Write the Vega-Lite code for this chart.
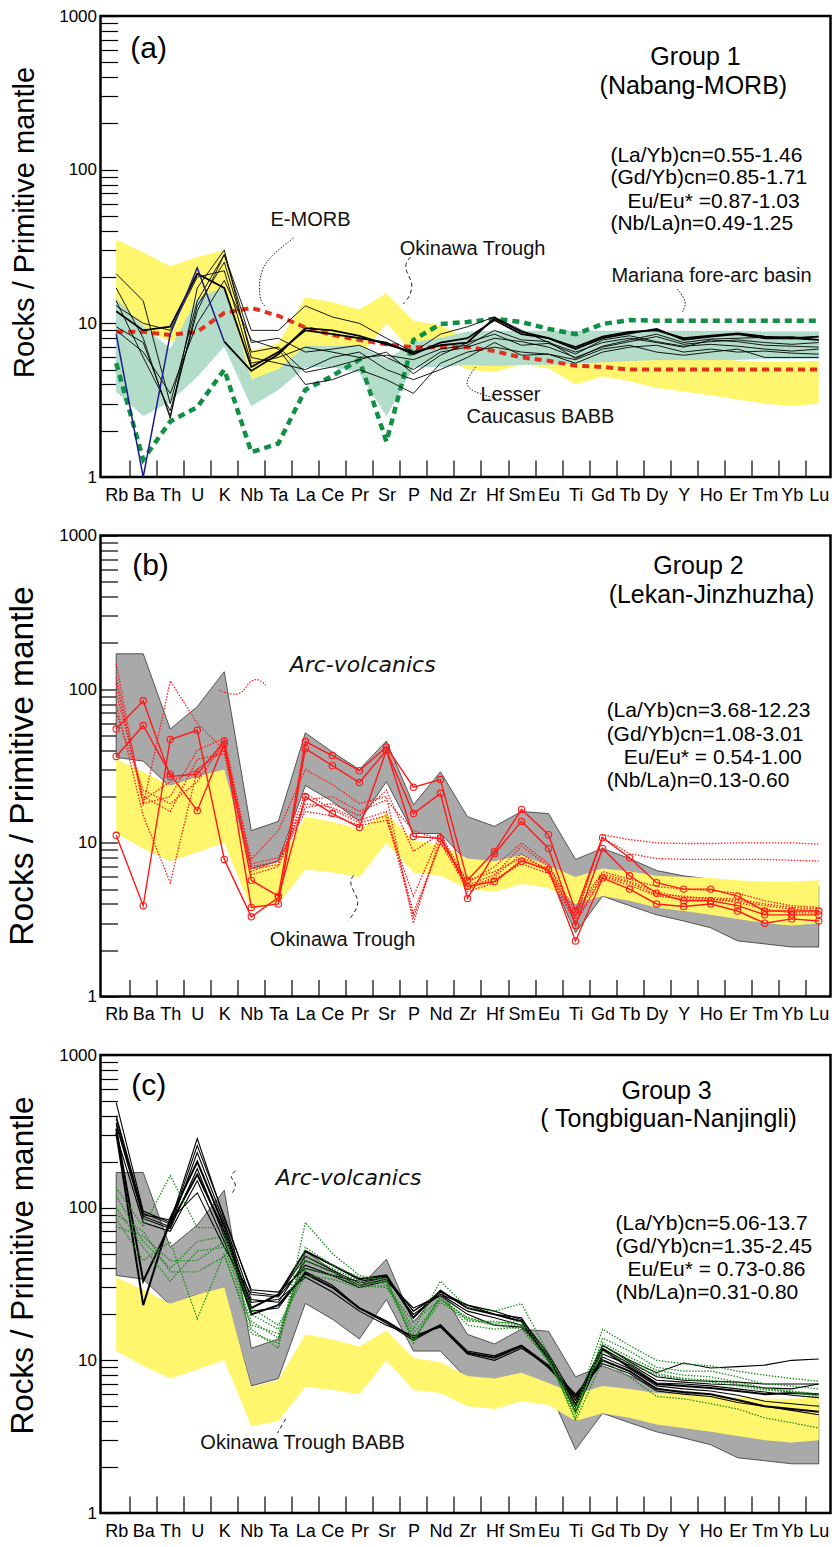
{
"$schema": "https://vega.github.io/schema/vega-lite/v6.json",
"background": "white",
"padding": {"left": 3.5, "top": 5, "right": 2, "bottom": 2},
"spacing": 18.5,
"config": {
  "font": "Liberation Sans",
  "view": {"stroke": "#000", "strokeWidth": 2.5},
  "axis": {"domain": false, "grid": false, "zindex": 1, "tickColor": "#000", "labelColor": "#000", "titleColor": "#000", "labelFont": "Liberation Sans", "titleFont": "Liberation Sans", "titleFontWeight": "normal"}
},
"datasets": {
  "els": [{"el":"Rb","i":0},{"el":"Ba","i":1},{"el":"Th","i":2},{"el":"U","i":3},{"el":"K","i":4},{"el":"Nb","i":5},{"el":"Ta","i":6},{"el":"La","i":7},{"el":"Ce","i":8},{"el":"Pr","i":9},{"el":"Sr","i":10},{"el":"P","i":11},{"el":"Nd","i":12},{"el":"Zr","i":13},{"el":"Hf","i":14},{"el":"Sm","i":15},{"el":"Eu","i":16},{"el":"Ti","i":17},{"el":"Gd","i":18},{"el":"Tb","i":19},{"el":"Dy","i":20},{"el":"Y","i":21},{"el":"Ho","i":22},{"el":"Er","i":23},{"el":"Tm","i":24},{"el":"Yb","i":25},{"el":"Lu","i":26}],
  "yel": [{"el":"Rb","v":35,"v2":11.5},{"el":"Ba","v":29,"v2":9.2},{"el":"Th","v":23.5,"v2":7.6},{"el":"U","v":27,"v2":8.7},{"el":"K","v":30,"v2":10},{"el":"Nb","v":6.7,"v2":3.7},{"el":"Ta","v":7.4,"v2":4.0},{"el":"La","v":14.8,"v2":6.7},{"el":"Ce","v":13.7,"v2":6.4},{"el":"Pr","v":12.3,"v2":6.0},{"el":"Sr","v":15.7,"v2":10},{"el":"P","v":10.4,"v2":6.4},{"el":"Nd","v":9.7,"v2":6.1},{"el":"Zr","v":7.9,"v2":5.0},{"el":"Hf","v":7.6,"v2":4.8},{"el":"Sm","v":8.3,"v2":5.4},{"el":"Eu","v":7.1,"v2":5.1},{"el":"Ti","v":6.0,"v2":4.0},{"el":"Gd","v":6.8,"v2":4.5},{"el":"Tb","v":6.5,"v2":4.2},{"el":"Dy","v":6.1,"v2":3.8},{"el":"Y","v":6.0,"v2":3.6},{"el":"Ho","v":5.9,"v2":3.4},{"el":"Er","v":5.7,"v2":3.2},{"el":"Tm","v":5.6,"v2":3.0},{"el":"Yb","v":5.6,"v2":2.9},{"el":"Lu","v":5.7,"v2":3.0}],
  "teal": [{"el":"Rb","v":14.4,"v2":3.6},{"el":"Ba","v":9.6,"v2":2.5},{"el":"Th","v":6.8,"v2":3.1},{"el":"U","v":14.4,"v2":4.5},{"el":"K","v":17.2,"v2":7.1},{"el":"Nb","v":4.3,"v2":2.9},{"el":"Ta","v":5.0,"v2":3.7},{"el":"La","v":7.1,"v2":5.2},{"el":"Ce","v":7.1,"v2":5.2},{"el":"Pr","v":7.1,"v2":4.8},{"el":"Sr","v":5.8,"v2":2.5},{"el":"P","v":7.5,"v2":5.2},{"el":"Nd","v":8.0,"v2":5.2},{"el":"Zr","v":8.8,"v2":5.4},{"el":"Hf","v":8.9,"v2":5.3},{"el":"Sm","v":8.9,"v2":5.4},{"el":"Eu","v":8.9,"v2":5.4},{"el":"Ti","v":8.9,"v2":5.5},{"el":"Gd","v":8.9,"v2":5.6},{"el":"Tb","v":8.9,"v2":5.7},{"el":"Dy","v":8.9,"v2":5.8},{"el":"Y","v":8.9,"v2":5.8},{"el":"Ho","v":8.9,"v2":5.8},{"el":"Er","v":8.9,"v2":5.8},{"el":"Tm","v":8.8,"v2":5.9},{"el":"Yb","v":8.8,"v2":5.9},{"el":"Lu","v":8.8,"v2":5.9}],
  "gray": [{"el":"Rb","v":170,"v2":36},{"el":"Ba","v":170,"v2":34},{"el":"Th","v":55,"v2":23},{"el":"U","v":77,"v2":27},{"el":"K","v":130,"v2":28},{"el":"Nb","v":12,"v2":6.8},{"el":"Ta","v":13.8,"v2":7.6},{"el":"La","v":52,"v2":23.6},{"el":"Ce","v":39,"v2":18.6},{"el":"Pr","v":30,"v2":13.8},{"el":"Sr","v":46,"v2":25},{"el":"P","v":17.7,"v2":11.5},{"el":"Nd","v":29,"v2":11.5},{"el":"Zr","v":14.8,"v2":7.5},{"el":"Hf","v":12.8,"v2":7},{"el":"Sm","v":16,"v2":7.5},{"el":"Eu","v":15.5,"v2":6.5},{"el":"Ti","v":7.8,"v2":2.6},{"el":"Gd","v":9.2,"v2":4.5},{"el":"Tb","v":7.9,"v2":3.9},{"el":"Dy","v":6.6,"v2":3.4},{"el":"Y","v":6.1,"v2":3.1},{"el":"Ho","v":5.8,"v2":2.8},{"el":"Er","v":5.5,"v2":2.3},{"el":"Tm","v":5.3,"v2":2.2},{"el":"Yb","v":5.2,"v2":2.1},{"el":"Lu","v":5.2,"v2":2.1}],
  "emorb": [{"s":"E-MORB","Rb":8.8,"Ba":8.8,"Th":8.4,"U":8.8,"K":11.7,"Nb":12.6,"Ta":11.2,"La":9.4,"Ce":8.4,"Pr":7.8,"Sr":7.3,"P":7.0,"Nd":7.0,"Zr":7.0,"Hf":6.6,"Sm":6.0,"Eu":5.7,"Ti":5.3,"Gd":5.2,"Tb":5.0,"Dy":5.0,"Y":5.0,"Ho":5.0,"Er":5.0,"Tm":5.0,"Yb":5.0,"Lu":5.0}],
  "mariana": [{"s":"Mariana","Rb":5.5,"Ba":1.3,"Th":2.3,"U":2.85,"K":5.0,"Nb":1.45,"Ta":1.65,"La":3.7,"Ce":4.55,"Pr":5.8,"Sr":1.7,"P":7.8,"Nd":9.9,"Zr":10.2,"Hf":10.7,"Sm":10.2,"Eu":9.2,"Ti":8.5,"Gd":9.9,"Tb":10.5,"Dy":10.4,"Y":10.4,"Ho":10.4,"Er":10.4,"Tm":10.4,"Yb":10.4,"Lu":10.4}],
  "thinA": [
    {"s":"a2","Rb":21,"Ba":14,"Th":3,"U":14,"K":28,"Nb":9,"Ta":9,"La":13,"Ce":11,"Pr":10,"Sr":8,"P":6.5,"Nd":8.5,"Zr":9.5,"Hf":11,"Sm":9,"Eu":7.5,"Ti":6.5,"Gd":7.5,"Tb":8,"Dy":7.5,"Y":7,"Ho":7.8,"Er":7.6,"Tm":7.2,"Yb":7.1,"Lu":7},
    {"s":"a3","Rb":17,"Ba":8,"Th":2.4,"U":17,"K":30,"Nb":6,"Ta":5.5,"La":5,"Ce":6,"Pr":6.5,"Sr":5,"P":4.3,"Nd":5,"Zr":6,"Hf":7.5,"Sm":6.2,"Eu":6.3,"Ti":5.5,"Gd":6.5,"Tb":7,"Dy":7.2,"Y":6.5,"Ho":6.8,"Er":6.5,"Tm":6.6,"Yb":6.4,"Lu":6.3},
    {"s":"a4","Rb":14,"Ba":6,"Th":2.7,"U":12,"K":28,"Nb":7.5,"Ta":8,"La":6.5,"Ce":6.8,"Pr":7.2,"Sr":6,"P":5,"Nd":6.5,"Zr":7,"Hf":8,"Sm":7.6,"Eu":7,"Ti":6,"Gd":7,"Tb":7.6,"Dy":8.2,"Y":7.3,"Ho":7.6,"Er":7.8,"Tm":7.5,"Yb":7.3,"Lu":7.5},
    {"s":"a5","Rb":9,"Ba":6.5,"Th":3.5,"U":10,"K":19,"Nb":7.8,"Ta":6.8,"La":4,"Ce":4.3,"Pr":5,"Sr":4.3,"P":3.5,"Nd":5.5,"Zr":6.5,"Hf":7,"Sm":6.5,"Eu":6.3,"Ti":5.8,"Gd":6.8,"Tb":7.2,"Dy":6.5,"Y":6.2,"Ho":6.5,"Er":6.8,"Tm":6,"Yb":6,"Lu":6},
    {"s":"a6","Rb":9.5,"Ba":7.5,"Th":2.5,"U":13,"K":25,"Nb":6.5,"Ta":7,"La":4.8,"Ce":5.2,"Pr":5.8,"Sr":6.5,"P":4.7,"Nd":6.2,"Zr":7.5,"Hf":8.5,"Sm":7.2,"Eu":7.4,"Ti":6.3,"Gd":7.8,"Tb":8.3,"Dy":7.6,"Y":7.1,"Ho":7.3,"Er":7.1,"Tm":6.8,"Yb":6.6,"Lu":6.8},
    {"s":"a7","Rb":13,"Ba":10,"Th":9,"U":20,"K":22,"Nb":5.5,"Ta":6,"La":7,"Ce":6.5,"Pr":6,"Sr":6.2,"P":5.8,"Nd":6.8,"Zr":7.2,"Hf":9,"Sm":7.8,"Eu":7.6,"Ti":5.9,"Gd":7.1,"Tb":7.8,"Dy":8.5,"Y":7.5,"Ho":7.9,"Er":8,"Tm":8.1,"Yb":8.2,"Lu":7.8}
  ],
  "thickA": [
    {"s":"a1","Rb":12,"Ba":9,"Th":9.5,"U":21,"K":17,"Nb":5.2,"Ta":6.5,"La":9,"Ce":8.5,"Pr":8,"Sr":7.5,"P":6.3,"Nd":7.5,"Zr":8,"Hf":10.5,"Sm":8.5,"Eu":8,"Ti":7,"Gd":8.2,"Tb":8.8,"Dy":9,"Y":8,"Ho":8.3,"Er":8.6,"Tm":8.2,"Yb":8,"Lu":8.2},
    {"s":"a8","K":7.6,"Nb":4.9,"Ta":6.3,"La":9.3,"Ce":9,"Pr":8.3,"Sr":7.3,"P":6.5,"Nd":7.2,"Zr":7.5,"Hf":10.8,"Sm":8.8,"Eu":8,"Ti":6.8,"Gd":8,"Tb":8.6,"Dy":9.2,"Y":7.8,"Ho":8.2,"Er":8.5,"Tm":8,"Yb":8,"Lu":7.8}
  ],
  "blueA": [{"s":"a8b","Rb":8.5,"Ba":1.0,"Th":8.5,"U":23,"K":7.6}],
  "solidB": [
    {"s":"r1","Rb":55,"Ba":84,"Th":27,"U":28,"K":46,"Nb":5.7,"Ta":4.5,"La":45.6,"Ce":37,"Pr":29.5,"Sr":42,"P":23,"Nd":25.8,"Zr":5.7,"Hf":8.8,"Sm":16.5,"Eu":11.3,"Ti":3.6,"Gd":10.8,"Tb":8.0,"Dy":5.5,"Y":5.0,"Ho":5.0,"Er":4.5,"Tm":3.6,"Yb":3.6,"Lu":3.6},
    {"s":"r2","Rb":36.5,"Ba":58,"Th":28,"U":16.2,"K":44,"Nb":3.8,"Ta":4.0,"La":41,"Ce":31.8,"Pr":24.7,"Sr":40,"P":15.5,"Nd":21,"Zr":4.35,"Hf":8.5,"Sm":13.8,"Eu":9.2,"Ti":2.9,"Gd":9.2,"Tb":6.1,"Dy":4.7,"Y":4.2,"Ho":4.2,"Er":3.9,"Tm":3.4,"Yb":3.4,"Lu":3.4},
    {"s":"r3","Rb":11.2,"Ba":3.9,"Th":47,"U":54,"K":7.8,"Nb":3.3,"Ta":4.4,"La":20,"Ce":15.5,"Pr":12.6,"Sr":40,"P":11,"Nd":10.7,"Zr":5.2,"Hf":5.6,"Sm":7.6,"Eu":6.7,"Ti":2.3,"Gd":5.9,"Tb":5.0,"Dy":4.0,"Y":3.85,"Ho":4.0,"Er":3.6,"Tm":3.0,"Yb":3.2,"Lu":3.1}
  ],
  "dotB": [
    {"s":"d1","Rb":147,"Ba":17.5,"Th":113,"U":60,"K":40,"Nb":7.8,"Ta":12,"La":30,"Ce":24,"Pr":18,"Sr":20,"P":3.0,"Nd":11,"Zr":5.2,"Hf":5.8,"Sm":7.3,"Eu":6.3,"Ti":3.0,"Gd":6,"Tb":5.3,"Dy":4.5,"Y":4.3,"Ho":4.3,"Er":4.1,"Tm":3.7,"Yb":3.5,"Lu":3.5},
    {"s":"d2","Rb":110,"Ba":18,"Th":20,"U":40,"K":48,"Nb":7.3,"Ta":8,"La":18,"Ce":17,"Pr":14,"Sr":16,"P":3.5,"Nd":10,"Zr":5.7,"Hf":6.5,"Sm":8,"Eu":6.8,"Ti":3.2,"Gd":11.3,"Tb":10.5,"Dy":10,"Y":9.9,"Ho":9.9,"Er":10,"Tm":10,"Yb":10,"Lu":9.8},
    {"s":"d3","Rb":80,"Ba":15,"Th":5.5,"U":30,"K":42,"Nb":6.5,"Ta":7.7,"La":17,"Ce":18,"Pr":15,"Sr":22,"P":8.8,"Nd":11.5,"Zr":5.5,"Hf":7,"Sm":10,"Eu":7.3,"Ti":3.3,"Gd":10.8,"Tb":8.5,"Dy":7.9,"Y":7.8,"Ho":7.8,"Er":7.8,"Tm":7.8,"Yb":7.7,"Lu":7.6},
    {"s":"d4","Rb":95,"Ba":20,"Th":16,"U":35,"K":38,"Nb":6.8,"Ta":7.2,"La":21,"Ce":16.5,"Pr":13.5,"Sr":15,"P":3.3,"Nd":10,"Zr":5,"Hf":6,"Sm":8.5,"Eu":6.5,"Ti":3.4,"Gd":6.3,"Tb":5.6,"Dy":4.8,"Y":4.4,"Ho":4.4,"Er":4.3,"Tm":4.0,"Yb":3.8,"Lu":3.7},
    {"s":"d5","Rb":70,"Ba":22,"Th":18,"U":25,"K":45,"Nb":7,"Ta":7.5,"La":16,"Ce":15,"Pr":13,"Sr":14,"P":4.5,"Nd":11.5,"Zr":4.8,"Hf":5.5,"Sm":7.8,"Eu":6.5,"Ti":3.1,"Gd":6.1,"Tb":5.5,"Dy":4.6,"Y":4.5,"Ho":4.3,"Er":4.2,"Tm":3.9,"Yb":3.7,"Lu":3.6},
    {"s":"d6","Rb":120,"Ba":19,"Th":25,"U":30,"K":40,"Nb":6.2,"Ta":7,"La":19,"Ce":20,"Pr":16,"Sr":19,"P":12,"Nd":10.5,"Zr":5.3,"Hf":6.2,"Sm":9.5,"Eu":7,"Ti":3.6,"Gd":6.5,"Tb":5.8,"Dy":5.2,"Y":5,"Ho":4.9,"Er":4.7,"Tm":4.2,"Yb":3.9,"Lu":3.8}
  ],
  "thinC": [
    {"s":"c1","Rb":487,"Ba":95,"Th":80,"U":284,"K":85,"Nb":29,"Ta":28,"La":40,"Ce":36,"Pr":33,"Sr":35,"P":21,"Nd":28,"Zr":23,"Hf":21,"Sm":18.5,"Eu":11,"Ti":5.5,"Gd":12.5,"Tb":10,"Dy":8.3,"Y":9.6,"Ho":8.9,"Er":9.1,"Tm":9.3,"Yb":10,"Lu":10.2},
    {"s":"c2","Rb":384,"Ba":88,"Th":75,"U":230,"K":80,"Nb":25,"Ta":24,"La":45,"Ce":38,"Pr":31,"Sr":34,"P":20,"Nd":27,"Zr":21,"Hf":19,"Sm":17,"Eu":10.5,"Ti":5.2,"Gd":12,"Tb":9.5,"Dy":7.4,"Y":7.2,"Ho":7.0,"Er":6.9,"Tm":6.6,"Yb":6.5,"Lu":7.0},
    {"s":"c5","Rb":350,"Ba":85,"Th":73,"U":180,"K":65,"Nb":24,"Ta":25,"La":35,"Ce":28,"Pr":21,"Sr":17,"P":14.5,"Nd":16.5,"Zr":11,"Hf":10,"Sm":12,"Eu":9.2,"Ti":6,"Gd":9.5,"Tb":8.2,"Dy":6.3,"Y":6.0,"Ho":5.8,"Er":5.3,"Tm":5.0,"Yb":4.7,"Lu":4.4},
    {"s":"c6","Rb":300,"Ba":80,"Th":70,"U":150,"K":60,"Nb":21,"Ta":22,"La":38,"Ce":31,"Pr":22,"Sr":17.5,"P":13.5,"Nd":17,"Zr":11.5,"Hf":10.7,"Sm":12.6,"Eu":9.3,"Ti":5.5,"Gd":10.5,"Tb":8.8,"Dy":6.8,"Y":6.5,"Ho":6.3,"Er":5.9,"Tm":5.4,"Yb":5.2,"Lu":5.0},
    {"s":"c7","Rb":360,"Ba":90,"Th":83,"U":125,"K":55,"Nb":27,"Ta":26,"La":42,"Ce":36,"Pr":30,"Sr":33,"P":22,"Nd":26.5,"Zr":20,"Hf":17,"Sm":16.5,"Eu":10.8,"Ti":4.6,"Gd":11,"Tb":9.3,"Dy":7.1,"Y":7.0,"Ho":6.8,"Er":6.5,"Tm":6.2,"Yb":5.9,"Lu":5.7},
    {"s":"c8","Rb":400,"Ba":92,"Th":78,"U":255,"K":88,"Nb":28,"Ta":26.5,"La":48,"Ce":39,"Pr":32,"Sr":35,"P":21,"Nd":27,"Zr":23,"Hf":20,"Sm":19,"Eu":10.2,"Ti":5.2,"Gd":12.6,"Tb":9.8,"Dy":7.8,"Y":7.4,"Ho":7.3,"Er":7.2,"Tm":7.0,"Yb":7.0,"Lu":7.0}
  ],
  "thickC": [
    {"s":"c3","Rb":310,"Ba":23,"Th":85,"U":200,"K":75,"Nb":22,"Ta":27,"La":52,"Ce":42,"Pr":34,"Sr":36,"P":19,"Nd":28.6,"Zr":22,"Hf":20,"Sm":18,"Eu":10,"Ti":5.0,"Gd":11.8,"Tb":9.0,"Dy":7.0,"Y":6.8,"Ho":6.6,"Er":6.3,"Tm":6.0,"Yb":6.1,"Lu":6.0},
    {"s":"c4","Rb":330,"Ba":33,"Th":78,"U":165,"K":70,"Nb":20,"Ta":23,"La":37,"Ce":30,"Pr":22,"Sr":18,"P":14,"Nd":17,"Zr":11.2,"Hf":10.4,"Sm":12.4,"Eu":9,"Ti":5.8,"Gd":10,"Tb":8.5,"Dy":6.5,"Y":6.2,"Ho":6.0,"Er":5.5,"Tm":5.0,"Yb":4.8,"Lu":4.6}
  ],
  "greenC": [
    {"s":"g1","Rb":135,"Ba":75,"Th":162,"U":74,"K":74,"Nb":16,"Ta":12,"La":80,"Ce":50,"Pr":36,"Sr":33,"P":16,"Nd":33,"Zr":22,"Hf":21,"Sm":23.5,"Eu":11,"Ti":4.8,"Gd":16,"Tb":12.5,"Dy":10,"Y":9.5,"Ho":9.2,"Er":8.5,"Tm":8.0,"Yb":7.6,"Lu":7.3},
    {"s":"g2","Rb":100,"Ba":55,"Th":33,"U":52,"K":55,"Nb":18,"Ta":14,"La":55,"Ce":42,"Pr":35,"Sr":34,"P":13,"Nd":27,"Zr":18,"Hf":18,"Sm":17,"Eu":10,"Ti":4.5,"Gd":13,"Tb":10.5,"Dy":8.6,"Y":8.0,"Ho":7.8,"Er":7.2,"Tm":6.6,"Yb":6.2,"Lu":5.8},
    {"s":"g3","Rb":85,"Ba":45,"Th":60,"U":18.7,"K":50,"Nb":15,"Ta":13,"La":48,"Ce":40,"Pr":33,"Sr":32,"P":15,"Nd":25,"Zr":19,"Hf":17.5,"Sm":18,"Eu":10.5,"Ti":4.0,"Gd":10,"Tb":7.8,"Dy":5.8,"Y":5.6,"Ho":5.2,"Er":4.8,"Tm":4.2,"Yb":3.9,"Lu":3.6},
    {"s":"g4","Rb":75,"Ba":65,"Th":45,"U":45,"K":60,"Nb":20,"Ta":16,"La":40,"Ce":36,"Pr":31,"Sr":30,"P":18,"Nd":25,"Zr":19,"Hf":17,"Sm":16,"Eu":10,"Ti":4.5,"Gd":12.5,"Tb":10,"Dy":8.2,"Y":7.6,"Ho":7.4,"Er":7.0,"Tm":6.5,"Yb":6.3,"Lu":6.0},
    {"s":"g5","Rb":120,"Ba":60,"Th":40,"U":60,"K":65,"Nb":22,"Ta":17,"La":36,"Ce":34,"Pr":30,"Sr":31,"P":14,"Nd":24,"Zr":18.5,"Hf":17,"Sm":17,"Eu":9.8,"Ti":5.0,"Gd":11.5,"Tb":9.5,"Dy":8.0,"Y":7.5,"Ho":7.2,"Er":6.8,"Tm":6.4,"Yb":6.2,"Lu":5.9},
    {"s":"g6","Rb":90,"Ba":70,"Th":38,"U":38,"K":48,"Nb":17,"Ta":15,"La":45,"Ce":38,"Pr":31,"Sr":33,"P":13.5,"Nd":26,"Zr":17,"Hf":16,"Sm":16.5,"Eu":10,"Ti":4.2,"Gd":14,"Tb":11.5,"Dy":9.0,"Y":8.5,"Ho":8.5,"Er":7.8,"Tm":7.0,"Yb":6.8,"Lu":6.5}
  ]
},
"vconcat": [
{
  "width": 730, "height": 461,
  "encoding": {
    "x": {"field": "i", "type": "quantitative", "scale": {"domain": [-0.581, 26.435], "nice": false, "zero": false},
      "axis": {"title": null, "values": [0,0.5,1,1.5,2,2.5,3,3.5,4,4.5,5,5.5,6,6.5,7,7.5,8,8.5,9,9.5,10,10.5,11,11.5,12,12.5,13,13.5,14,14.5,15,15.5,16,16.5,17,17.5,18,18.5,19,19.5,20,20.5,21,21.5,22,22.5,23,23.5,24,24.5,25,25.5,26], "labelExpr": "datum.value % 1 == 0 ? ['Rb','Ba','Th','U','K','Nb','Ta','La','Ce','Pr','Sr','P','Nd','Zr','Hf','Sm','Eu','Ti','Gd','Tb','Dy','Y','Ho','Er','Tm','Yb','Lu'][datum.value] : ''", "labelFontSize": 18, "labelOverlap": false, "labelFlush": false, "tickSize": -17, "tickWidth": 1.2, "tickOpacity": {"condition": {"test": "datum.value % 1 == 0", "value": 0}, "value": 1}, "labelPadding": 26}},
    "y": {"field": "v", "type": "quantitative", "scale": {"type": "log", "domain": [1, 1000], "nice": false},
      "axis": {"title": "Rocks / Primitive mantle", "titleFontSize": 29, "titlePadding": 19, "titleY": 206, "values": [1,2,3,4,5,6,7,8,9,10,20,30,40,50,60,70,80,90,100,200,300,400,500,600,700,800,900,1000], "labelExpr": "(datum.value == 1 || datum.value == 10 || datum.value == 100 || datum.value == 1000) ? '' + datum.value : ''", "labelFontSize": 17, "labelOverlap": false, "labelFlush": false, "tickSize": -17, "tickWidth": 1.2, "labelPadding": 21}}
  },
  "layer": [
    {"data": {"name": "yel"}, "transform": [{"lookup": "el", "from": {"data": {"name": "els"}, "key": "el", "fields": ["i"]}}], "mark": {"type": "area", "color": "#fff66e"}, "encoding": {"y2": {"field": "v2"}}},
    {"data": {"name": "teal"}, "transform": [{"lookup": "el", "from": {"data": {"name": "els"}, "key": "el", "fields": ["i"]}}], "mark": {"type": "area", "fill": "#b3dcc9", "stroke": "#8fd0e8", "strokeWidth": 0.8, "strokeDash": [2, 2]}, "encoding": {"y2": {"field": "v2"}}},
    {"data": {"name": "emorb"}, "transform": [{"fold": ["Rb","Ba","Th","U","K","Nb","Ta","La","Ce","Pr","Sr","P","Nd","Zr","Hf","Sm","Eu","Ti","Gd","Tb","Dy","Y","Ho","Er","Tm","Yb","Lu"], "as": ["el","v"]}, {"lookup": "el", "from": {"data": {"name": "els"}, "key": "el", "fields": ["i"]}}], "mark": {"type": "line", "color": "#e2301f", "strokeWidth": 4, "strokeDash": [7, 5]}, "encoding": {"detail": {"field": "s"}}},
    {"data": {"name": "mariana"}, "transform": [{"fold": ["Rb","Ba","Th","U","K","Nb","Ta","La","Ce","Pr","Sr","P","Nd","Zr","Hf","Sm","Eu","Ti","Gd","Tb","Dy","Y","Ho","Er","Tm","Yb","Lu"], "as": ["el","v"]}, {"lookup": "el", "from": {"data": {"name": "els"}, "key": "el", "fields": ["i"]}}], "mark": {"type": "line", "color": "#0f9045", "strokeWidth": 4.5, "strokeDash": [7, 5]}, "encoding": {"detail": {"field": "s"}}},
    {"data": {"name": "thinA"}, "transform": [{"fold": ["Rb","Ba","Th","U","K","Nb","Ta","La","Ce","Pr","Sr","P","Nd","Zr","Hf","Sm","Eu","Ti","Gd","Tb","Dy","Y","Ho","Er","Tm","Yb","Lu"], "as": ["el","v"]}, {"lookup": "el", "from": {"data": {"name": "els"}, "key": "el", "fields": ["i"]}}], "mark": {"type": "line", "color": "#000", "strokeWidth": 0.9}, "encoding": {"detail": {"field": "s"}}},
    {"data": {"name": "thickA"}, "transform": [{"fold": ["Rb","Ba","Th","U","K","Nb","Ta","La","Ce","Pr","Sr","P","Nd","Zr","Hf","Sm","Eu","Ti","Gd","Tb","Dy","Y","Ho","Er","Tm","Yb","Lu"], "as": ["el","v"]}, {"filter": "isValid(datum.v)"}, {"lookup": "el", "from": {"data": {"name": "els"}, "key": "el", "fields": ["i"]}}], "mark": {"type": "line", "color": "#000", "strokeWidth": 1.8}, "encoding": {"detail": {"field": "s"}}},
    {"data": {"name": "blueA"}, "transform": [{"fold": ["Rb","Ba","Th","U","K"], "as": ["el","v"]}, {"lookup": "el", "from": {"data": {"name": "els"}, "key": "el", "fields": ["i"]}}], "mark": {"type": "line", "color": "#1c1c8a", "strokeWidth": 1.5}, "encoding": {"detail": {"field": "s"}}},
    {"data": {"values": [
      {"g":"e","k":0,"i":6.56,"v":35.9},{"g":"e","k":1,"i":5.41,"v":25.0},{"g":"e","k":2,"i":5.27,"v":17.5},{"g":"e","k":3,"i":5.34,"v":13.8},{"g":"e","k":4,"i":5.53,"v":12.8},
      {"g":"m","k":0,"i":20.77,"v":16.7},{"g":"m","k":1,"i":21.14,"v":13.8},{"g":"m","k":2,"i":20.96,"v":11.9},
      {"g":"l","k":0,"i":13.3,"v":5.2},{"g":"l","k":1,"i":12.85,"v":4.03},{"g":"l","k":2,"i":13.22,"v":3.57},{"g":"l","k":3,"i":14.11,"v":3.22}]},
     "mark": {"type": "line", "color": "#000", "strokeWidth": 0.9, "strokeDash": [1.5, 1.5], "interpolate": "basis"}, "encoding": {"detail": {"field": "g"}, "order": {"field": "k"}}},
    {"data": {"values": [{"g":"o","k":0,"i":10.89,"v":27.0},{"g":"o","k":1,"i":10.6,"v":23.2},{"g":"o","k":2,"i":11.0,"v":18.6},{"g":"o","k":3,"i":10.89,"v":15.1},{"g":"o","k":4,"i":10.63,"v":13.4}]},
     "mark": {"type": "line", "color": "#000", "strokeWidth": 0.9, "strokeDash": [4, 3], "interpolate": "basis"}, "encoding": {"detail": {"field": "g"}, "order": {"field": "k"}}},
    {"data": {"values": [{"t":"(a)","i":1.2,"v":609}]}, "mark": {"type": "text", "fontSize": 30, "align": "center", "baseline": "middle", "color": "#000"}, "encoding": {"text": {"field": "t"}}},
    {"data": {"values": [{"t":"Group 1","i":21.44,"v":540},{"t":"(Nabang-MORB)","i":21.36,"v":350}]}, "mark": {"type": "text", "fontSize": 25, "align": "center", "baseline": "middle", "color": "#000"}, "encoding": {"text": {"field": "t"}}},
    {"data": {"values": [{"t":"(La/Yb)cn=0.55-1.46","i":18.29,"v":122},{"t":"(Gd/Yb)cn=0.85-1.71","i":18.29,"v":88},{"t":"Eu/Eu* =0.87-1.03","i":18.92,"v":61.5},{"t":"(Nb/La)n=0.49-1.25","i":18.29,"v":44.3}]}, "mark": {"type": "text", "fontSize": 21, "align": "left", "baseline": "middle", "color": "#000"}, "encoding": {"text": {"field": "t"}}},
    {"data": {"values": [{"t":"E-MORB","i":7.19,"v":47},{"t":"Okinawa Trough","i":13.19,"v":30.4},{"t":"Mariana fore-arc basin","i":22.03,"v":20.3},{"t":"Lesser","i":14.59,"v":3.42},{"t":"Caucasus BABB","i":15.7,"v":2.46}]}, "mark": {"type": "text", "fontSize": 20, "align": "center", "baseline": "middle", "color": "#111"}, "encoding": {"text": {"field": "t"}}}
  ]
},
{
  "width": 730, "height": 461,
  "encoding": {
    "x": {"field": "i", "type": "quantitative", "scale": {"domain": [-0.581, 26.435], "nice": false, "zero": false},
      "axis": {"title": null, "values": [0,0.5,1,1.5,2,2.5,3,3.5,4,4.5,5,5.5,6,6.5,7,7.5,8,8.5,9,9.5,10,10.5,11,11.5,12,12.5,13,13.5,14,14.5,15,15.5,16,16.5,17,17.5,18,18.5,19,19.5,20,20.5,21,21.5,22,22.5,23,23.5,24,24.5,25,25.5,26], "labelExpr": "datum.value % 1 == 0 ? ['Rb','Ba','Th','U','K','Nb','Ta','La','Ce','Pr','Sr','P','Nd','Zr','Hf','Sm','Eu','Ti','Gd','Tb','Dy','Y','Ho','Er','Tm','Yb','Lu'][datum.value] : ''", "labelFontSize": 18, "labelOverlap": false, "labelFlush": false, "tickSize": -17, "tickWidth": 1.2, "tickOpacity": {"condition": {"test": "datum.value % 1 == 0", "value": 0}, "value": 1}, "labelPadding": 26}},
    "y": {"field": "v", "type": "quantitative", "scale": {"type": "log", "domain": [1, 1000], "nice": false},
      "axis": {"title": "Rocks / Primitive mantle", "titleFontSize": 33.5, "titlePadding": 19, "titleY": 230, "values": [1,2,3,4,5,6,7,8,9,10,20,30,40,50,60,70,80,90,100,200,300,400,500,600,700,800,900,1000], "labelExpr": "(datum.value == 1 || datum.value == 10 || datum.value == 100 || datum.value == 1000) ? '' + datum.value : ''", "labelFontSize": 17, "labelOverlap": false, "labelFlush": false, "tickSize": -17, "tickWidth": 1.2, "labelPadding": 21}}
  },
  "layer": [
    {"data": {"name": "gray"}, "transform": [{"lookup": "el", "from": {"data": {"name": "els"}, "key": "el", "fields": ["i"]}}], "mark": {"type": "area", "fill": "#a9a9a9", "stroke": "#333", "strokeWidth": 0.8}, "encoding": {"y2": {"field": "v2"}}},
    {"data": {"name": "yel"}, "transform": [{"lookup": "el", "from": {"data": {"name": "els"}, "key": "el", "fields": ["i"]}}], "mark": {"type": "area", "color": "#fff66e"}, "encoding": {"y2": {"field": "v2"}}},
    {"data": {"name": "dotB"}, "transform": [{"fold": ["Rb","Ba","Th","U","K","Nb","Ta","La","Ce","Pr","Sr","P","Nd","Zr","Hf","Sm","Eu","Ti","Gd","Tb","Dy","Y","Ho","Er","Tm","Yb","Lu"], "as": ["el","v"]}, {"lookup": "el", "from": {"data": {"name": "els"}, "key": "el", "fields": ["i"]}}], "mark": {"type": "line", "color": "#ff1a1a", "strokeWidth": 1.3, "strokeDash": [1.5, 1.5]}, "encoding": {"detail": {"field": "s"}}},
    {"data": {"name": "solidB"}, "transform": [{"fold": ["Rb","Ba","Th","U","K","Nb","Ta","La","Ce","Pr","Sr","P","Nd","Zr","Hf","Sm","Eu","Ti","Gd","Tb","Dy","Y","Ho","Er","Tm","Yb","Lu"], "as": ["el","v"]}, {"lookup": "el", "from": {"data": {"name": "els"}, "key": "el", "fields": ["i"]}}], "mark": {"type": "line", "color": "#ff1a1a", "strokeWidth": 1.4}, "encoding": {"detail": {"field": "s"}}},
    {"data": {"name": "solidB"}, "transform": [{"fold": ["Rb","Ba","Th","U","K","Nb","Ta","La","Ce","Pr","Sr","P","Nd","Zr","Hf","Sm","Eu","Ti","Gd","Tb","Dy","Y","Ho","Er","Tm","Yb","Lu"], "as": ["el","v"]}, {"lookup": "el", "from": {"data": {"name": "els"}, "key": "el", "fields": ["i"]}}], "mark": {"type": "point", "shape": "circle", "filled": false, "size": 40, "color": "#ff1a1a", "strokeWidth": 1.1, "opacity": 1}},
    {"data": {"values": [{"g":"o","k":0,"i":8.78,"v":6.14},{"g":"o","k":1,"i":8.6,"v":5.45},{"g":"o","k":2,"i":8.97,"v":4.35},{"g":"o","k":3,"i":8.93,"v":3.74},{"g":"o","k":4,"i":8.6,"v":3.13}]},
     "mark": {"type": "line", "color": "#000", "strokeWidth": 0.9, "strokeDash": [4, 3], "interpolate": "basis"}, "encoding": {"detail": {"field": "g"}, "order": {"field": "k"}}},
    {"data": {"values": [{"g":"a","k":0,"i":3.79,"v":98.5},{"g":"a","k":1,"i":4.30,"v":91.4},{"g":"a","k":2,"i":4.71,"v":94.2},{"g":"a","k":3,"i":4.9,"v":112.8},{"g":"a","k":4,"i":5.27,"v":118},{"g":"a","k":5,"i":5.53,"v":106}]},
     "mark": {"type": "line", "color": "#ff1a1a", "strokeWidth": 1.2, "strokeDash": [1.5, 1.5], "interpolate": "basis"}, "encoding": {"detail": {"field": "g"}, "order": {"field": "k"}}},
    {"data": {"values": [{"t":"(b)","i":1.27,"v":633}]}, "mark": {"type": "text", "fontSize": 30, "align": "center", "baseline": "middle", "color": "#000"}, "encoding": {"text": {"field": "t"}}},
    {"data": {"values": [{"t":"Group 2","i":21.55,"v":633},{"t":"(Lekan-Jinzhuzha)","i":22.03,"v":410}]}, "mark": {"type": "text", "fontSize": 25, "align": "center", "baseline": "middle", "color": "#000"}, "encoding": {"text": {"field": "t"}}},
    {"data": {"values": [{"t":"(La/Yb)cn=3.68-12.23","i":18.15,"v":71.9},{"t":"(Gd/Yb)cn=1.08-3.01","i":18.15,"v":50.2},{"t":"Eu/Eu* = 0.54-1.00","i":18.78,"v":35.5},{"t":"(Nb/La)n=0.13-0.60","i":18.15,"v":25.2}]}, "mark": {"type": "text", "fontSize": 21, "align": "left", "baseline": "middle", "color": "#000"}, "encoding": {"text": {"field": "t"}}},
    {"data": {"values": [{"t":"Okinawa Trough","i":8.38,"v":2.32}]}, "mark": {"type": "text", "fontSize": 20, "align": "center", "baseline": "middle", "color": "#111"}, "encoding": {"text": {"field": "t"}}},
    {"data": {"values": [{"t":"Arc-volcanics","i":9.12,"v":143}]}, "mark": {"type": "text", "font": "DejaVu Sans", "fontSize": 22, "fontStyle": "italic", "align": "center", "baseline": "middle", "color": "#111"}, "encoding": {"text": {"field": "t"}}}
  ]
},
{
  "width": 730, "height": 458,
  "encoding": {
    "x": {"field": "i", "type": "quantitative", "scale": {"domain": [-0.581, 26.435], "nice": false, "zero": false},
      "axis": {"title": null, "values": [0,0.5,1,1.5,2,2.5,3,3.5,4,4.5,5,5.5,6,6.5,7,7.5,8,8.5,9,9.5,10,10.5,11,11.5,12,12.5,13,13.5,14,14.5,15,15.5,16,16.5,17,17.5,18,18.5,19,19.5,20,20.5,21,21.5,22,22.5,23,23.5,24,24.5,25,25.5,26], "labelExpr": "datum.value % 1 == 0 ? ['Rb','Ba','Th','U','K','Nb','Ta','La','Ce','Pr','Sr','P','Nd','Zr','Hf','Sm','Eu','Ti','Gd','Tb','Dy','Y','Ho','Er','Tm','Yb','Lu'][datum.value] : ''", "labelFontSize": 18, "labelOverlap": false, "labelFlush": false, "tickSize": -17, "tickWidth": 1.2, "tickOpacity": {"condition": {"test": "datum.value % 1 == 0", "value": 0}, "value": 1}, "labelPadding": 26}},
    "y": {"field": "v", "type": "quantitative", "scale": {"type": "log", "domain": [1, 1000], "nice": false},
      "axis": {"title": "Rocks / Primitive mantle", "titleFontSize": 31.5, "titlePadding": 19, "titleY": 210, "values": [1,2,3,4,5,6,7,8,9,10,20,30,40,50,60,70,80,90,100,200,300,400,500,600,700,800,900,1000], "labelExpr": "(datum.value == 1 || datum.value == 10 || datum.value == 100 || datum.value == 1000) ? '' + datum.value : ''", "labelFontSize": 17, "labelOverlap": false, "labelFlush": false, "tickSize": -17, "tickWidth": 1.2, "labelPadding": 21}}
  },
  "layer": [
    {"data": {"name": "gray"}, "transform": [{"lookup": "el", "from": {"data": {"name": "els"}, "key": "el", "fields": ["i"]}}], "mark": {"type": "area", "fill": "#a9a9a9", "stroke": "#333", "strokeWidth": 0.8}, "encoding": {"y2": {"field": "v2"}}},
    {"data": {"name": "yel"}, "transform": [{"lookup": "el", "from": {"data": {"name": "els"}, "key": "el", "fields": ["i"]}}], "mark": {"type": "area", "color": "#fff66e"}, "encoding": {"y2": {"field": "v2"}}},
    {"data": {"name": "thinC"}, "transform": [{"fold": ["Rb","Ba","Th","U","K","Nb","Ta","La","Ce","Pr","Sr","P","Nd","Zr","Hf","Sm","Eu","Ti","Gd","Tb","Dy","Y","Ho","Er","Tm","Yb","Lu"], "as": ["el","v"]}, {"lookup": "el", "from": {"data": {"name": "els"}, "key": "el", "fields": ["i"]}}], "mark": {"type": "line", "color": "#000", "strokeWidth": 1.1}, "encoding": {"detail": {"field": "s"}}},
    {"data": {"name": "thickC"}, "transform": [{"fold": ["Rb","Ba","Th","U","K","Nb","Ta","La","Ce","Pr","Sr","P","Nd","Zr","Hf","Sm","Eu","Ti","Gd","Tb","Dy","Y","Ho","Er","Tm","Yb","Lu"], "as": ["el","v"]}, {"lookup": "el", "from": {"data": {"name": "els"}, "key": "el", "fields": ["i"]}}], "mark": {"type": "line", "color": "#000", "strokeWidth": 2}, "encoding": {"detail": {"field": "s"}}},
    {"data": {"name": "greenC"}, "transform": [{"fold": ["Rb","Ba","Th","U","K","Nb","Ta","La","Ce","Pr","Sr","P","Nd","Zr","Hf","Sm","Eu","Ti","Gd","Tb","Dy","Y","Ho","Er","Tm","Yb","Lu"], "as": ["el","v"]}, {"lookup": "el", "from": {"data": {"name": "els"}, "key": "el", "fields": ["i"]}}], "mark": {"type": "line", "color": "#1a8c1a", "strokeWidth": 1.3, "strokeDash": [1.5, 1.5]}, "encoding": {"detail": {"field": "s"}}},
    {"data": {"values": [{"g":"a","k":0,"i":4.42,"v":174},{"g":"a","k":1,"i":4.16,"v":161},{"g":"a","k":2,"i":4.49,"v":143},{"g":"a","k":3,"i":4.3,"v":125},{"g":"o","k":0,"i":6.27,"v":4.13},{"g":"o","k":1,"i":5.97,"v":3.34}]},
     "mark": {"type": "line", "color": "#000", "strokeWidth": 0.9, "strokeDash": [4, 3], "interpolate": "basis"}, "encoding": {"detail": {"field": "g"}, "order": {"field": "k"}}},
    {"data": {"values": [{"t":"(c)","i":1.2,"v":626}]}, "mark": {"type": "text", "fontSize": 30, "align": "center", "baseline": "middle", "color": "#000"}, "encoding": {"text": {"field": "t"}}},
    {"data": {"values": [{"t":"Group 3","i":20.37,"v":580},{"t":"( Tongbiguan-Nanjingli)","i":20.44,"v":380}]}, "mark": {"type": "text", "fontSize": 25, "align": "center", "baseline": "middle", "color": "#000"}, "encoding": {"text": {"field": "t"}}},
    {"data": {"values": [{"t":"(La/Yb)cn=5.06-13.7","i":18.48,"v":78.1},{"t":"(Gd/Yb)cn=1.35-2.45","i":18.48,"v":55.2},{"t":"Eu/Eu* = 0.73-0.86","i":18.92,"v":39.0},{"t":"(Nb/La)n=0.31-0.80","i":18.48,"v":27.6}]}, "mark": {"type": "text", "fontSize": 21, "align": "left", "baseline": "middle", "color": "#000"}, "encoding": {"text": {"field": "t"}}},
    {"data": {"values": [{"t":"Okinawa Trough BABB","i":6.9,"v":2.87}]}, "mark": {"type": "text", "fontSize": 20, "align": "center", "baseline": "middle", "color": "#111"}, "encoding": {"text": {"field": "t"}}},
    {"data": {"values": [{"t":"Arc-volcanics","i":8.6,"v":156}]}, "mark": {"type": "text", "font": "DejaVu Sans", "fontSize": 22, "fontStyle": "italic", "align": "center", "baseline": "middle", "color": "#111"}, "encoding": {"text": {"field": "t"}}}
  ]
}
]
}
